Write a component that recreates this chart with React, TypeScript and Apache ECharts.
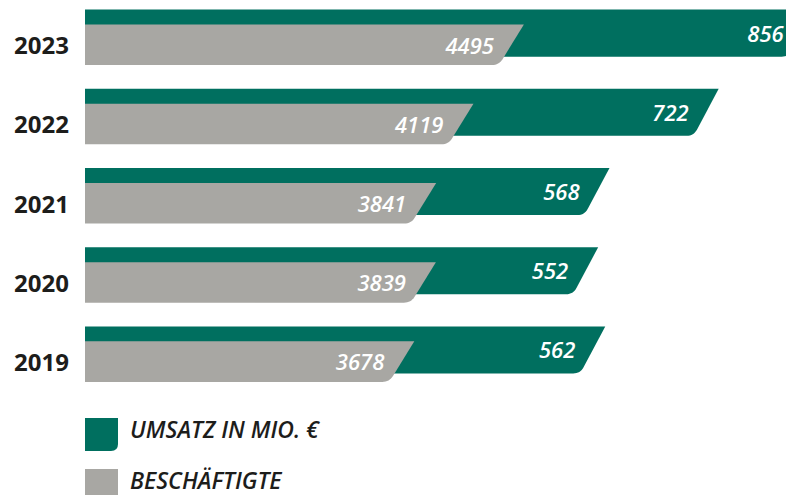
import React, { useEffect, useRef } from "react";
import * as echarts from "echarts";

const years = ["2019", "2020", "2021", "2022", "2023"];
const umsatz = [562, 552, 568, 722, 856];
const beschaeftigte = [3678, 3839, 3841, 4119, 4495];
const seriesNames = ["UMSATZ IN MIO. €", "BESCHÄFTIGTE"];

const GREEN = "#006f5f";
const GRAY = "#a8a7a3";
const FONT = '"Open Sans", "DejaVu Sans", sans-serif';

function makeRender(kind: "green" | "gray") {
  return (params: any, api: any) => {
    const v = api.value(0);
    const cat = api.value(1);
    const pt = api.coord([v, cat]);
    const xr = pt[0];
    const cy = pt[1];
    const band = api.size([0, 1])[1];
    const x0 = params.coordSys.x;
    const top = kind === "green" ? cy - band * 0.442 : cy - band * 0.253;
    const bottom = kind === "green" ? cy + band * 0.152 : cy + band * 0.259;
    const h = bottom - top;
    const dx = 25;
    const r = 7;
    const bx = xr - dx;
    const len = Math.sqrt(dx * dx + h * h);
    const ux = dx / len;
    const uy = -h / len;
    const p2 = [bx + r * ux, bottom + r * uy];
    const p1 = [bx - r, bottom];
    const pts: number[][] = [
      [x0, top],
      [xr, top],
    ];
    const n = 8;
    for (let k = 0; k <= n; k++) {
      const t = k / n;
      const a = (1 - t) * (1 - t);
      const b = 2 * (1 - t) * t;
      const c = t * t;
      pts.push([a * p2[0] + b * bx + c * p1[0], a * p2[1] + b * bottom + c * p1[1]]);
    }
    pts.push([x0, bottom]);
    const labelY = kind === "green" ? cy - band * 0.152 : cy;
    return {
      type: "group",
      children: [
        {
          type: "polygon",
          shape: { points: pts },
          style: { fill: kind === "green" ? GREEN : GRAY },
        },
        {
          type: "text",
          z2: 10,
          style: {
            text: String(v),
            x: xr - 30,
            y: labelY,
            align: "right",
            verticalAlign: "middle",
            textAlign: "right",
            textVerticalAlign: "middle",
            fill: "#ffffff",
            fontSize: 22,
            fontStyle: "italic",
            fontWeight: 600,
            fontFamily: FONT,
          },
        },
      ],
    };
  };
}

export default function App() {
  const ref = useRef<HTMLDivElement>(null);
  useEffect(() => {
    if (!ref.current) return;
    const chart = echarts.init(ref.current, undefined, { renderer: "svg" });
    const icon = "path://M0,0H33V26Q33,33 26,33H0Z";
    const legendText = {
      fontSize: 23,
      fontStyle: "italic",
      fontWeight: 600,
      fontFamily: FONT,
      color: "#1d1d1b",
      rich: {
        t: {
          fontSize: 23,
          fontStyle: "italic",
          fontWeight: 600,
          fontFamily: FONT,
          color: "#1d1d1b",
          padding: [0, 0, 12, 7],
        },
      },
    };
    const legendBase = {
      orient: "vertical",
      left: 85,
      itemWidth: 33,
      itemHeight: 33,
      selectedMode: false,
      padding: 0,
      textStyle: legendText,
      formatter: (name: string) => "{t|" + name + "}",
    };
    chart.setOption({
      animation: false,
      backgroundColor: "#ffffff",
      grid: { left: 85, right: 0, top: 5, bottom: 94, containLabel: false },
      legend: [
        { ...legendBase, top: 417, data: [{ name: seriesNames[0], icon }] },
        { ...legendBase, top: 468, data: [{ name: seriesNames[1], icon }] },
      ],
      xAxis: [
        { type: "value", min: -172, max: 817, show: false, gridIndex: 0 },
        { type: "value", min: 1223, max: 6449, show: false, gridIndex: 0 },
      ],
      yAxis: {
        type: "category",
        data: years,
        axisLine: { show: false },
        axisTick: { show: false },
        splitLine: { show: false },
        axisLabel: {
          margin: 16,
          fontSize: 24,
          fontWeight: "bold",
          fontFamily: FONT,
          color: "#1d1d1b",
        },
      },
      series: [
        {
          name: seriesNames[0],
          type: "custom",
          coordinateSystem: "cartesian2d",
          xAxisIndex: 0,
          yAxisIndex: 0,
          itemStyle: { color: GREEN },
          encode: { x: 0, y: 1 },
          renderItem: makeRender("green"),
          data: umsatz.map((v, i) => [v, i]),
          z: 1,
        },
        {
          name: seriesNames[1],
          type: "custom",
          coordinateSystem: "cartesian2d",
          xAxisIndex: 1,
          yAxisIndex: 0,
          itemStyle: { color: GRAY },
          encode: { x: 0, y: 1 },
          renderItem: makeRender("gray"),
          data: beschaeftigte.map((v, i) => [v, i]),
          z: 2,
        },
      ],
    });
    return () => chart.dispose();
  }, []);
  return (
    <div
      ref={ref}
      style={{ position: "fixed", left: 0, top: 0, width: 786, height: 495 }}
    />
  );
}
